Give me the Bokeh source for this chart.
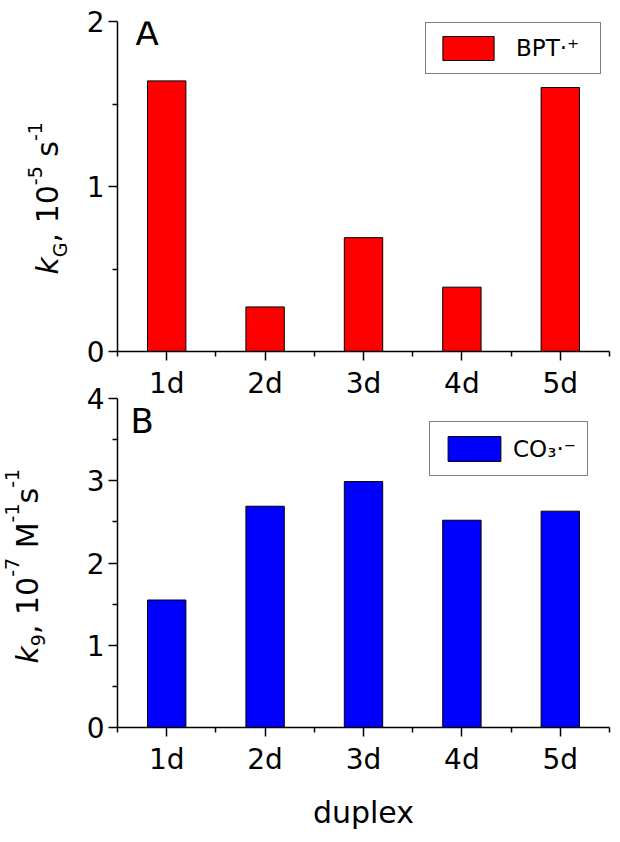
import math
from bokeh.plotting import figure
from bokeh.models import Range1d, FixedTicker, Label, Legend, LegendItem, ColumnDataSource
from bokeh.layouts import column, row
from bokeh.embed import file_html
from bokeh.resources import INLINE

# ---------------- data ----------------
duplexes = ["1d", "2d", "3d", "4d", "5d"]
k_bpt = [1.64, 0.27, 0.69, 0.39, 1.60]      # panel A, kG / 1e-5 s^-1
k_co3 = [1.55, 2.69, 2.99, 2.52, 2.63]      # panel B, k9 / 1e-7 M^-1 s^-1
yticks_a = [0, 1, 2]
yticks_b = [0, 1, 2, 3, 4]
panel_letters = ["A", "B"]
legend_labels = ["BPT·⁺", "CO₃·⁻"]
x_title = "duplex"
ytitle_a = [("k", "it"), ("G", "sub"), (", 10", "main"), ("-5", "sup"), (" s", "main"), ("-1", "sup")]
ytitle_b = [("k", "it"), ("9", "sub"), (", 10", "main"), ("-7", "sup"), (" M", "main"),
            ("-1", "sup"), ("s", "main"), ("-1", "sup")]

FONT = "DejaVu Sans"
# approximate DejaVu Sans advance widths (em) used to chain the axis-title pieces
ADV = {'k': 0.579, 'G': 0.775, ',': 0.318, ' ': 0.318, '0': 0.636, '1': 0.636, '5': 0.636,
       '7': 0.636, '9': 0.636, '-': 0.361, 's': 0.521, 'M': 0.863}

pos = [i + 1 for i in range(len(duplexes))]
minor_x = [i + 0.5 for i in range(len(duplexes) + 1)]

TITLE_W, TITLE_H = 72, 830   # strip that holds the two y titles (pixels)
LEFT = 45                    # left border of the panels (tick labels)


def make_panel(values, color, yticks, letter, legend_label, ymax, fheight, top_border,
               letter_dx, letter_dy, legend_loc, legend_pad, glyph_w, glyph_h, standoff, label_w,
               with_xtitle):
    p = figure(frame_width=492, frame_height=fheight,
               x_range=Range1d(min(minor_x), max(minor_x)), y_range=Range1d(0, ymax),
               output_backend="svg", toolbar_location=None,
               min_border_left=LEFT, min_border_right=3,
               min_border_top=top_border, min_border_bottom=10)
    p.outline_line_color = None
    p.xgrid.visible = False
    p.ygrid.visible = False
    src = ColumnDataSource(dict(x=pos, top=values))
    r = p.vbar(x="x", top="top", width=0.39, bottom=0, source=src,
               fill_color=color, line_color="black", line_width=1)

    for ax in (p.xaxis[0], p.yaxis[0]):
        ax.axis_line_width = 1.5
        ax.axis_line_color = "black"
        ax.major_tick_line_width = 1.5
        ax.minor_tick_line_width = 1.5
        ax.major_tick_line_color = "black"
        ax.minor_tick_line_color = "black"
        ax.major_tick_out = 9
        ax.major_tick_in = 0
        ax.minor_tick_out = 5
        ax.minor_tick_in = 0
        ax.major_label_text_font = FONT
        ax.major_label_text_font_size = "28px"
        ax.major_label_text_color = "black"

    p.xaxis.ticker = FixedTicker(ticks=pos, minor_ticks=minor_x)
    p.xaxis.major_label_overrides = {x: d for x, d in zip(pos, duplexes)}
    p.xaxis.major_label_standoff = 6
    p.yaxis.ticker = FixedTicker(ticks=yticks, minor_ticks=[t + 0.5 for t in yticks[:-1]])
    p.yaxis.major_label_standoff = 4

    if with_xtitle:
        p.xaxis.axis_label = x_title
        p.xaxis.axis_label_text_font = FONT
        p.xaxis.axis_label_text_font_size = "30px"
        p.xaxis.axis_label_text_font_style = "normal"
        p.xaxis.axis_label_text_color = "black"
        p.xaxis.axis_label_standoff = 16

    p.add_layout(Label(x=p.x_range.start, y=ymax, x_offset=letter_dx, y_offset=letter_dy,
                       text=letter, text_font=FONT, text_font_size="34px",
                       text_baseline="middle", text_color="black"))

    leg = Legend(items=[LegendItem(label=legend_label, renderers=[r])],
                 location=legend_loc, margin=0, padding=legend_pad,
                 glyph_width=glyph_w, glyph_height=glyph_h, label_standoff=standoff,
                 label_width=label_w,
                 label_text_font=FONT, label_text_font_size="23px", label_text_color="black",
                 border_line_color="black", border_line_width=1.2,
                 background_fill_color="white", background_fill_alpha=1.0)
    p.add_layout(leg)
    return p


def add_ytitle(t, parts, baseline_x, start_page_y, sub_shift, sup_shift):
    """Chain the styled pieces of a rotated axis title upward from start_page_y."""
    along = 0.0
    for txt, kind in parts:
        size = 30 if kind in ("main", "it") else 19
        shift = {"main": 0, "it": 0, "sub": sub_shift, "sup": sup_shift}[kind]
        # leading blanks would be collapsed by SVG: advance past them instead
        stripped = txt.lstrip(" ")
        along += (len(txt) - len(stripped)) * ADV[' '] * size
        # with baseline "middle" the alphabetic baseline lies ~0.346 em to the right
        ax = baseline_x + shift - 0.346 * size
        t.add_layout(Label(x=ax, y=TITLE_H - start_page_y, y_offset=along,
                           angle=math.pi / 2, text=stripped, text_font=FONT,
                           text_font_size=f"{size}px",
                           text_font_style="italic" if kind == "it" else "normal",
                           text_align="left", text_baseline="middle",
                           text_color="black"))
        along += sum(ADV.get(c, 0.6) for c in stripped) * size


p1 = make_panel(k_bpt, "#FF0000", yticks_a, panel_letters[0], legend_labels[0], max(yticks_a),
                330, 21, 18, -11, (308, 277), 10, 64, 30, 16, 74, False)

p2 = make_panel(k_co3, "#0000FF", yticks_b, panel_letters[1], legend_labels[1], max(yticks_b),
                329, 14, 13, -22, (312, 251), 11, 66, 31, 6, 58, True)
p2.border_fill_alpha = 0
p2.background_fill_alpha = 0
p2.margin = (-18, 0, 0, 0)

# strip on the left carrying the composite (italic / sub / superscript) y titles
t = figure(width=TITLE_W, height=TITLE_H, x_range=Range1d(0, TITLE_W), y_range=Range1d(0, TITLE_H),
           output_backend="svg", toolbar_location=None, x_axis_location=None, y_axis_location=None,
           min_border=0)
t.outline_line_color = None
t.xgrid.visible = False
t.ygrid.visible = False
t.border_fill_alpha = 0
t.background_fill_alpha = 0
add_ytitle(t, ytitle_a, 57, 274, 9, -16)
add_ytitle(t, ytitle_b, 37, 663, 7, -19)

layout = row(t, column(p1, p2, spacing=0), spacing=0)
open("out.html", "w").write(file_html(layout, INLINE))
